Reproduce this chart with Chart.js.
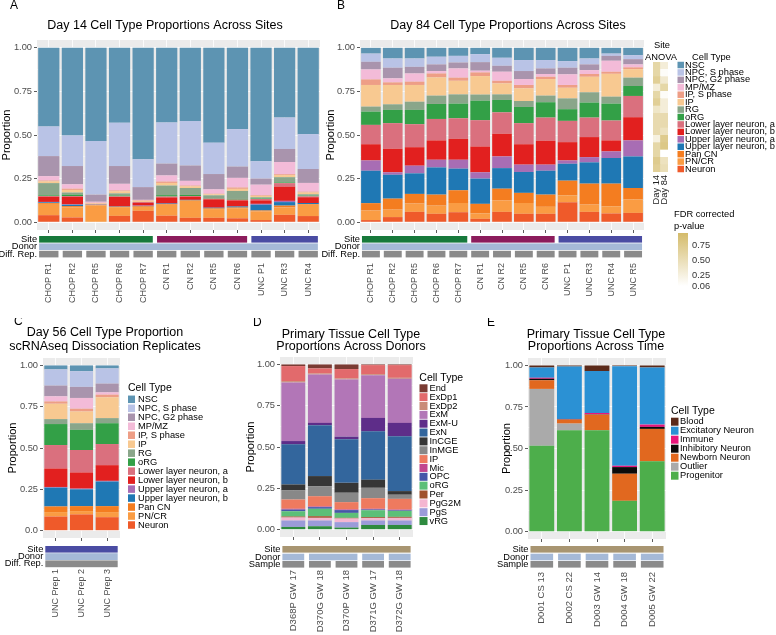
<!DOCTYPE html>
<html>
<head>
<meta charset="utf-8">
<title>Cell type proportions</title>
<script src="https://cdn.jsdelivr.net/npm/chart.js@4.4.1/dist/chart.umd.min.js"></script>
<style>
  html, body { margin: 0; padding: 0; background: #fff; }
  #fig { position: relative; width: 776px; height: 635px; overflow: hidden; }
  #fig canvas { position: absolute; }
</style>
</head>
<body>
<div id="fig"></div>
<script>
const FONT = "'Liberation Sans', Arial, Helvetica, sans-serif";

// organoid cell types, listed from the bottom of each stack to the top
const cellTypes = ['Neuron', 'PN/CR', 'Pan CN', 'Upper layer neuron, b', 'Upper layer neuron, a',
  'Lower layer neuron, b', 'Lower layer neuron, a', 'oRG', 'RG', 'IP', 'IP, S phase', 'MP/MZ',
  'NPC, G2 phase', 'NPC, S phase', 'NSC'];
const cellColors = ['#ef5a2a', '#fa9c43', '#f47d20', '#1f78b4', '#a86db4', '#e2201f', '#da707e',
  '#33a047', '#8aa68a', '#f8c991', '#ee9e86', '#f3bbd8', '#a994ad', '#b9c3e6', '#5d94b2'];

// Day 14 (rows = samples, values follow cellTypes bottom -> top)
const day14Samples = ['CHOP R1', 'CHOP R2', 'CHOP R5', 'CHOP R6', 'CHOP R7', 'CN R1', 'CN R2', 'CN R5', 'CN R6', 'UNC P1', 'UNC R3', 'UNC R4'];
const day14Sites = ['CHOP', 'CHOP', 'CHOP', 'CHOP', 'CHOP', 'CN', 'CN', 'CN', 'CN', 'UNC', 'UNC', 'UNC'];
const day14Props = [
  [0.040, 0.065, 0.005, 0.004, 0.002, 0.030, 0.004, 0.004, 0.070, 0.010, 0.005, 0.025, 0.115, 0.170, 0.451],
  [0.027, 0.058, 0.007, 0.008, 0.002, 0.043, 0.005, 0.008, 0.012, 0.015, 0.007, 0.025, 0.105, 0.175, 0.503],
  [0.000, 0.096, 0.002, 0.001, 0.000, 0.001, 0.001, 0.000, 0.002, 0.004, 0.004, 0.006, 0.041, 0.307, 0.535],
  [0.036, 0.050, 0.002, 0.002, 0.000, 0.055, 0.003, 0.005, 0.012, 0.012, 0.005, 0.038, 0.102, 0.248, 0.430],
  [0.065, 0.022, 0.004, 0.002, 0.002, 0.015, 0.006, 0.000, 0.000, 0.006, 0.003, 0.003, 0.073, 0.160, 0.639],
  [0.037, 0.063, 0.004, 0.003, 0.000, 0.035, 0.005, 0.008, 0.055, 0.015, 0.008, 0.035, 0.068, 0.236, 0.428],
  [0.025, 0.097, 0.003, 0.003, 0.000, 0.018, 0.004, 0.006, 0.040, 0.009, 0.005, 0.027, 0.088, 0.255, 0.420],
  [0.025, 0.050, 0.004, 0.004, 0.000, 0.048, 0.004, 0.003, 0.016, 0.006, 0.003, 0.025, 0.088, 0.180, 0.544],
  [0.022, 0.058, 0.004, 0.006, 0.000, 0.035, 0.004, 0.004, 0.046, 0.012, 0.008, 0.055, 0.065, 0.215, 0.466],
  [0.012, 0.050, 0.005, 0.033, 0.005, 0.020, 0.008, 0.003, 0.007, 0.008, 0.004, 0.060, 0.035, 0.100, 0.650],
  [0.042, 0.043, 0.010, 0.020, 0.007, 0.082, 0.020, 0.004, 0.030, 0.012, 0.005, 0.070, 0.075, 0.180, 0.400],
  [0.035, 0.065, 0.004, 0.006, 0.000, 0.033, 0.005, 0.004, 0.008, 0.010, 0.005, 0.050, 0.080, 0.200, 0.495]
];

// Day 84
const day84Samples = ['CHOP R1', 'CHOP R2', 'CHOP R5', 'CHOP R6', 'CHOP R7', 'CN R1', 'CN R2', 'CN R5', 'CN R6', 'UNC P1', 'UNC R3', 'UNC R4', 'UNC R5'];
const day84Sites = ['CHOP', 'CHOP', 'CHOP', 'CHOP', 'CHOP', 'CN', 'CN', 'CN', 'CN', 'UNC', 'UNC', 'UNC', 'UNC'];
const day84Props = [
  [0.012, 0.055, 0.042, 0.186, 0.059, 0.093, 0.111, 0.076, 0.029, 0.124, 0.032, 0.057, 0.044, 0.047, 0.033],
  [0.029, 0.043, 0.063, 0.137, 0.014, 0.135, 0.147, 0.076, 0.032, 0.111, 0.015, 0.023, 0.061, 0.053, 0.061],
  [0.059, 0.048, 0.055, 0.118, 0.044, 0.106, 0.132, 0.082, 0.047, 0.096, 0.019, 0.047, 0.038, 0.048, 0.061],
  [0.048, 0.047, 0.063, 0.156, 0.044, 0.111, 0.123, 0.086, 0.048, 0.104, 0.023, 0.014, 0.038, 0.044, 0.051],
  [0.057, 0.053, 0.073, 0.124, 0.051, 0.120, 0.118, 0.084, 0.053, 0.078, 0.018, 0.053, 0.034, 0.038, 0.046],
  [0.019, 0.031, 0.055, 0.145, 0.036, 0.148, 0.151, 0.112, 0.035, 0.106, 0.021, 0.010, 0.049, 0.046, 0.036],
  [0.059, 0.065, 0.068, 0.118, 0.067, 0.130, 0.123, 0.071, 0.032, 0.063, 0.015, 0.052, 0.034, 0.046, 0.057],
  [0.048, 0.062, 0.058, 0.120, 0.042, 0.117, 0.121, 0.093, 0.034, 0.073, 0.019, 0.034, 0.046, 0.063, 0.070],
  [0.048, 0.040, 0.070, 0.137, 0.035, 0.137, 0.133, 0.088, 0.038, 0.095, 0.013, 0.016, 0.032, 0.048, 0.070],
  [0.114, 0.040, 0.084, 0.097, 0.019, 0.105, 0.122, 0.067, 0.062, 0.061, 0.016, 0.061, 0.038, 0.038, 0.076],
  [0.059, 0.042, 0.120, 0.122, 0.030, 0.115, 0.112, 0.086, 0.059, 0.089, 0.016, 0.022, 0.033, 0.034, 0.061],
  [0.050, 0.041, 0.130, 0.147, 0.038, 0.063, 0.114, 0.097, 0.040, 0.131, 0.012, 0.063, 0.028, 0.013, 0.033],
  [0.053, 0.077, 0.066, 0.181, 0.092, 0.133, 0.122, 0.057, 0.048, 0.049, 0.010, 0.017, 0.030, 0.023, 0.042]
];

// Day 56 dissociation replicates
const day56Samples = ['UNC Prep 1', 'UNC Prep 2', 'UNC Prep 3'];
const day56Props = [
  [0.085, 0.027, 0.034, 0.114, 0.004, 0.112, 0.142, 0.127, 0.030, 0.093, 0.014, 0.031, 0.065, 0.098, 0.024],
  [0.098, 0.020, 0.030, 0.102, 0.004, 0.098, 0.136, 0.122, 0.040, 0.071, 0.017, 0.065, 0.067, 0.095, 0.035],
  [0.081, 0.031, 0.036, 0.149, 0.004, 0.095, 0.128, 0.126, 0.031, 0.126, 0.016, 0.014, 0.053, 0.092, 0.018]
];

// site ANOVA, FDR corrected p-values (same order as cellTypes)
const anovaDay14 = [0.70, 0.75, 0.60, 0.60, 0.25, 0.55, 0.55, 0.55, 0.40, 0.70, 0.60, 0.30, 0.70, 0.60, 0.60];
const anovaDay84 = [0.50, 0.45, 0.06, 0.80, 0.75, 0.45, 0.55, 0.55, 0.30, 0.30, 0.10, 0.60, 0.35, 0.10, 0.30];
const fdrBreaks = [0.06, 0.25, 0.50, 0.75];
const fdrRange = [0.06, 0.97];

// primary tissue, across donors (bottom -> top)
const tissueTypes = ['vRG', 'PgS', 'PgG2M', 'Per', 'oRG', 'OPC', 'Mic', 'IP', 'InMGE', 'InCGE', 'ExN', 'ExM-U', 'ExM', 'ExDp2', 'ExDp1', 'End'];
const tissueColors = ['#2e8b3f', '#9b9bd9', '#f4b6d1', '#a0522d', '#5cbf78', '#4656a8', '#c2478f', '#ee7a5f',
  '#888888', '#363636', '#33669d', '#5e2d89', '#b276b7', '#c98b78', '#e26a6c', '#7a3b33'];
const donorSamples = ['D368P GW 17', 'D370G GW 18', 'D370P GW 18', 'D371G GW 17', 'D372G GW 18'];
const donorIds = ['D368', 'D370', 'D370', 'D371', 'D372'];
const donorProps = [
  [0.016, 0.039, 0.018, 0.006, 0.032, 0.010, 0.005, 0.056, 0.055, 0.036, 0.243, 0.020, 0.355, 0.008, 0.091, 0.010],
  [0.020, 0.035, 0.016, 0.010, 0.045, 0.010, 0.004, 0.062, 0.061, 0.061, 0.308, 0.014, 0.293, 0.006, 0.031, 0.024],
  [0.012, 0.033, 0.022, 0.004, 0.030, 0.017, 0.004, 0.044, 0.057, 0.060, 0.264, 0.016, 0.346, 0.006, 0.057, 0.028],
  [0.028, 0.027, 0.014, 0.006, 0.042, 0.005, 0.004, 0.064, 0.063, 0.049, 0.293, 0.081, 0.259, 0.006, 0.055, 0.004],
  [0.028, 0.027, 0.016, 0.006, 0.036, 0.004, 0.004, 0.065, 0.025, 0.022, 0.332, 0.081, 0.267, 0.006, 0.077, 0.004]
];

// primary tissue, across time (bottom -> top)
const timeTypes = ['Progenitor', 'Outlier', 'Newborn Neuron', 'Inhibitory Neuron', 'Immune', 'Excitatory Neuron', 'Blood'];
const timeColors = ['#4dae4b', '#aaaaaa', '#e1681f', '#0b0b0b', '#e7167b', '#2b91d4', '#5b2a1a'];
const timeSamples = ['D001 CS 13', 'D002 CS 22', 'D003 GW 14', 'D004 GW 18', 'D005 GW 22'];
const timeProps = [
  [0.517, 0.342, 0.052, 0.009, 0.006, 0.062, 0.012],
  [0.610, 0.040, 0.024, 0.002, 0.002, 0.316, 0.006],
  [0.610, 0.000, 0.094, 0.002, 0.008, 0.252, 0.034],
  [0.185, 0.000, 0.163, 0.040, 0.008, 0.600, 0.004],
  [0.423, 0.000, 0.195, 0.012, 0.014, 0.344, 0.012]
];

const siteColors = { CHOP: '#17793b', CN: '#8c1c5c', UNC: '#4a4ca3', Tissue: '#a89571' };
const donorColor = '#a5b9d7';
const repColor = '#8b8b8b';

const fig = document.getElementById('fig');

function addCanvas(box) {
  const c = document.createElement('canvas');
  c.width = box[2];
  c.height = box[3];
  c.style.left = box[0] + 'px';
  c.style.top = box[1] + 'px';
  fig.appendChild(c);
  return c;
}

function put(ctx, str, x, y, size, align, color) {
  ctx.font = size + 'px ' + FONT;
  ctx.textAlign = align || 'left';
  ctx.textBaseline = 'middle';
  ctx.fillStyle = color || '#000';
  ctx.fillText(str, x, y);
}

const isMajor = v => Math.abs(v * 4 - Math.round(v * 4)) < 1e-6;

function stackedPanel(p) {
  const [bx, by, bw, bh] = p.box;
  const [ax0, ay0, ax1, ay1] = p.area;
  const yW = ax0 - bx - p.padLeft;
  const xH = by + bh - ay1;
  const canvas = addCanvas(p.box);

  const datasets = p.types.map((t, i) => ({
    label: t,
    data: p.values.map(row => row[i]),
    backgroundColor: p.colors[i],
    borderWidth: 0,
    barPercentage: 0.9,
    categoryPercentage: 1
  }));

  const decor = {
    id: 'decor',
    beforeDraw(chart) {
      const a = chart.chartArea;
      const ctx = chart.ctx;
      ctx.save();
      ctx.fillStyle = '#ebebeb';
      ctx.fillRect(a.left, a.top, a.right - a.left, a.bottom - a.top);
      ctx.restore();
    },
    afterDraw(chart) {
      const ctx = chart.ctx;
      const xs = chart.scales.x;
      ctx.save();
      ctx.translate(-bx, -by);
      put(ctx, p.letter[0], p.letter[1], p.letter[2], 12);
      p.title.forEach((line, k) => put(ctx, line, p.titleX, p.titleY[k], 12.5, 'center'));

      // annotation strips under the bars
      const step = xs.getPixelForValue(1) - xs.getPixelForValue(0);
      const half = step * 0.41;
      const n = p.labels.length;
      p.strips.forEach(st => {
        let i = 0;
        while (i < n) {
          let j = i;
          while (j + 1 < n && st.keys[j + 1] === st.keys[i]) j++;
          const x0 = bx + xs.getPixelForValue(i) - half;
          const x1 = bx + xs.getPixelForValue(j) + half;
          ctx.fillStyle = st.color(st.keys[i]);
          ctx.fillRect(x0, st.y, x1 - x0, st.h);
          i = j + 1;
        }
        put(ctx, st.name, bx + xs.getPixelForValue(0) - half - 2, st.y + st.h / 2, 9.3, 'right');
      });

      // legend, top of the stack first
      const lg = p.legend;
      if (lg) {
        put(ctx, 'Cell Type', lg.titleX, lg.titleY, lg.titleSize);
        for (let k = 0; k < p.types.length; k++) {
          const i = p.types.length - 1 - k;
          const cy = lg.y0 + k * lg.step;
          ctx.fillStyle = p.colors[i];
          ctx.fillRect(lg.keyX, cy - lg.keyH / 2, lg.keyW, lg.keyH);
          put(ctx, p.types[i], lg.textX, cy, 9.3);
        }
      }
      if (p.extra) p.extra(ctx);
      ctx.restore();
    }
  };

  return new Chart(canvas, {
    type: 'bar',
    data: { labels: p.labels, datasets },
    options: {
      responsive: false,
      animation: false,
      devicePixelRatio: 1,
      layout: { padding: { left: p.padLeft, top: ay0 - by, right: bx + bw - ax1, bottom: 0 } },
      plugins: { legend: { display: false }, tooltip: { enabled: false } },
      scales: {
        x: {
          stacked: true,
          border: { display: false },
          grid: { color: '#ffffff', lineWidth: 0.8, offset: false, tickLength: 3, tickColor: '#333333' },
          ticks: {
            autoSkip: false, minRotation: 90, maxRotation: 90, padding: p.labelPad,
            color: '#4d4d4d', font: { family: FONT, size: p.xSize || 9 }
          },
          afterFit(s) { s.height = xH; s.paddingLeft = 0; s.paddingRight = 0; }
        },
        y: {
          stacked: true,
          min: -0.045,
          max: 1.045,
          border: { display: false },
          afterBuildTicks(s) {
            s.ticks = [0, 0.125, 0.25, 0.375, 0.5, 0.625, 0.75, 0.875, 1].map(v => ({ value: v }));
          },
          grid: {
            color: '#ffffff',
            lineWidth: c => (c.tick && isMajor(c.tick.value) ? 0.8 : 0.4),
            tickLength: 3,
            tickColor: c => (c.tick && isMajor(c.tick.value) ? '#333333' : 'rgba(0,0,0,0)')
          },
          ticks: {
            padding: 2,
            color: '#4d4d4d',
            font: { family: FONT, size: 9.3 },
            callback: v => (isMajor(v) ? (v === 0 && p.zeroLabel ? p.zeroLabel : v.toFixed(2)) : '')
          },
          title: {
            display: true, text: 'Proportion', color: '#000',
            font: { family: FONT, size: 11 }, padding: { top: 0, bottom: 0 }
          },
          afterFit(s) { s.width = yW; s.paddingTop = 0; s.paddingBottom = 0; }
        }
      }
    },
    plugins: [decor]
  });
}

const siteStrip = (keys, y) => ({ name: 'Site', keys, y, h: 6.6, color: k => siteColors[k] });

// A
stackedPanel({
  box: [0, 0, 320, 320], area: [37, 40, 320, 230], padLeft: 0, labelPad: 30,
  labels: day14Samples, types: cellTypes, colors: cellColors, values: day14Props,
  letter: ['A', 10, 6], title: ['Day 14 Cell Type Proportions Across Sites'], titleX: 165, titleY: [26],
  strips: [
    siteStrip(day14Sites, 236),
    { name: 'Donor', keys: day14Samples.map(() => 'D'), y: 243.4, h: 6.6, color: () => donorColor },
    { name: 'Diff. Rep.', keys: day14Samples, y: 250.8, h: 6.6, color: () => repColor }
  ]
});

// B
stackedPanel({
  box: [316, 0, 460, 320], area: [360, 40, 644, 230], padLeft: 8, labelPad: 30,
  labels: day84Samples, types: cellTypes, colors: cellColors, values: day84Props,
  letter: ['B', 337, 6], title: ['Day 84 Cell Type Proportions Across Sites'], titleX: 508, titleY: [26],
  strips: [
    siteStrip(day84Sites, 236),
    { name: 'Donor', keys: day84Samples.map(() => 'D'), y: 243.4, h: 6.6, color: () => donorColor },
    { name: 'Diff. Rep.', keys: day84Samples, y: 250.8, h: 6.6, color: () => repColor }
  ],
  legend: { titleX: 692, titleY: 57, titleSize: 9.3, keyX: 677.5, keyW: 6.5, keyH: 6.5, y0: 65, step: 7.43, textX: 685 },
  extra(ctx) {
    put(ctx, 'Site', 662, 45, 9.3, 'center');
    put(ctx, 'ANOVA', 661, 57, 9.3, 'center');
    put(ctx, 'FDR corrected', 674, 214, 9.3);
    put(ctx, 'p-value', 674, 226, 9.3);
  }
});

// C
stackedPanel({
  box: [0, 318, 244, 317], area: [43, 358, 120, 538], padLeft: 6, labelPad: 28, zeroLabel: '0.0',
  labels: day56Samples, types: cellTypes, colors: cellColors, values: day56Props,
  letter: ['C', 14, 322], title: ['Day 56 Cell Type Proportion', 'scRNAseq Dissociation Replicates'], titleX: 105, titleY: [333, 347],
  strips: [
    siteStrip(day56Samples.map(() => 'UNC'), 546),
    { name: 'Donor', keys: day56Samples.map(() => 'D'), y: 553.2, h: 6.8, color: () => donorColor },
    { name: 'Diff. Rep.', keys: day56Samples.map(() => 'R'), y: 560.4, h: 6.8, color: () => repColor }
  ],
  legend: { titleX: 128, titleY: 388, titleSize: 10.5, keyX: 128, keyW: 7, keyH: 7.5, y0: 399.3, step: 8.98, textX: 138 }
});

// D
stackedPanel({
  box: [244, 318, 252, 317], area: [280, 357, 413, 537], padLeft: 0, labelPad: 30, xSize: 9.5,
  labels: donorSamples, types: tissueTypes, colors: tissueColors, values: donorProps,
  letter: ['D', 253, 323], title: ['Primary Tissue Cell Type', 'Proportions Across Donors'], titleX: 351, titleY: [335, 347],
  strips: [
    siteStrip(donorSamples.map(() => 'Tissue'), 546),
    { name: 'Donor', keys: donorIds, y: 553.7, h: 6.6, color: () => donorColor },
    { name: 'Sample', keys: donorSamples, y: 561, h: 6.6, color: () => repColor }
  ],
  legend: { titleX: 419.3, titleY: 378.3, titleSize: 10.5, keyX: 419.5, keyW: 8, keyH: 8, y0: 388.3, step: 8.85, textX: 429.5 }
});

// E
stackedPanel({
  box: [484, 318, 292, 317], area: [528, 358, 666, 539], padLeft: 16, labelPad: 30, xSize: 9.5,
  labels: timeSamples, types: timeTypes, colors: timeColors, values: timeProps,
  letter: ['E', 487, 323], title: ['Primary Tissue Cell Type', 'Proportions Across Time'], titleX: 596, titleY: [335, 347],
  strips: [
    siteStrip(timeSamples.map(() => 'Tissue'), 546),
    { name: 'Donor', keys: timeSamples, y: 553.7, h: 6.6, color: () => donorColor },
    { name: 'Sample', keys: timeSamples, y: 561, h: 6.6, color: () => repColor }
  ],
  legend: { titleX: 671, titleY: 411, titleSize: 10.5, keyX: 671, keyW: 7.5, keyH: 8, y0: 421.7, step: 9.0, textX: 680 }
});

// ANOVA heat map next to panel B
function fdrColor(p) {
  const t = Math.max(0, Math.min(1, (p - fdrRange[0]) / (fdrRange[1] - fdrRange[0])));
  const mix = (a, b) => Math.round(a + (b - a) * t);
  return 'rgb(' + mix(255, 212) + ',' + mix(255, 187) + ',' + mix(255, 106) + ')';
}

new Chart(addCanvas([640, 30, 52, 185]), {
  type: 'bar',
  data: {
    labels: ['Day 14', 'Day 84'],
    datasets: cellTypes.map((t, i) => ({
      label: t,
      data: [1, 1],
      backgroundColor: [fdrColor(anovaDay14[i]), fdrColor(anovaDay84[i])],
      borderWidth: 0,
      barPercentage: 1,
      categoryPercentage: 1
    }))
  },
  options: {
    responsive: false, animation: false, devicePixelRatio: 1,
    layout: { padding: { left: 13, right: 24, top: 32, bottom: 0 } },
    plugins: { legend: { display: false }, tooltip: { enabled: false } },
    scales: {
      x: {
        stacked: true,
        border: { display: false },
        grid: { display: false, drawTicks: false },
        ticks: { autoSkip: false, minRotation: 90, maxRotation: 90, padding: 3, color: '#222', font: { family: FONT, size: 9.3 } },
        afterFit(s) { s.height = 43; s.paddingLeft = 0; s.paddingRight = 0; }
      },
      y: { stacked: true, min: 0, max: cellTypes.length, display: false }
    }
  }
});

// FDR colour bar
new Chart(addCanvas([670, 228, 60, 65]), {
  type: 'bar',
  data: {
    labels: [''],
    datasets: [{
      data: [fdrRange],
      borderWidth: 0,
      barPercentage: 1,
      categoryPercentage: 1,
      backgroundColor(c) {
        const a = c.chart.chartArea;
        if (!a) return '#e0d09a';
        const g = c.chart.ctx.createLinearGradient(0, a.bottom, 0, a.top);
        g.addColorStop(0, fdrColor(fdrRange[0]));
        g.addColorStop(1, fdrColor(fdrRange[1]));
        return g;
      }
    }]
  },
  options: {
    responsive: false, animation: false, devicePixelRatio: 1,
    layout: { padding: { left: 8, right: 0, top: 5, bottom: 7 } },
    plugins: { legend: { display: false }, tooltip: { enabled: false } },
    scales: {
      x: { display: false },
      y: {
        position: 'right',
        min: fdrRange[0], max: fdrRange[1],
        border: { display: false },
        grid: { display: false, drawTicks: false },
        afterBuildTicks(s) { s.ticks = fdrBreaks.map(v => ({ value: v })); },
        ticks: { padding: 4, color: '#333', font: { family: FONT, size: 9.3 }, callback: v => v.toFixed(2) },
        afterFit(s) { s.width = 42; s.paddingTop = 0; s.paddingBottom = 0; }
      }
    }
  }
});
</script>
</body>
</html>
